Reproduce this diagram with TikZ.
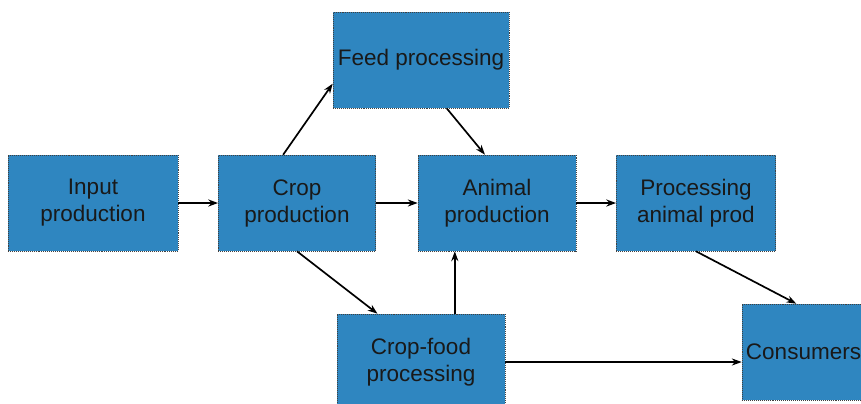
\documentclass[tikz,border=0pt]{standalone}
\usepackage{fontspec}
\setmainfont{Liberation Sans}
\usetikzlibrary{positioning,arrows.meta}
\definecolor{boxblue}{RGB}{47,134,192}
\tikzset{b/.style={rectangle,draw=black!75,densely dotted,fill=boxblue,minimum height=2.4cm,align=center,
            font=\fontsize{16}{19.2}\selectfont, text=black!90},
            a/.style={-{Stealth[length=7pt,width=5pt]}, line width=1.2pt, solid}}

\begin{document}
\begin{tikzpicture}[x=0.025cm,y=-0.025cm]
\useasboundingbox (0,0) rectangle (861,403);
\node[b, minimum width=4.25cm] at (93,203)(inp){Input\\production};
\node[b, minimum width=3.93cm] at (297,203)(crop){Crop\\production};
\node[b, minimum width=4.4cm] at (421,60)(feed){Feed processing};
\node[b, minimum width=3.95cm] at (497,203)(anim){Animal\\production};
\node[b, minimum width=3.98cm] at (696,203)(proc){Processing\\animal prod};
\node[b, minimum width=4.2cm] at (421,362)(cfood){Crop-food\\processing};
\node[b, minimum width=4cm, text width=3.8cm, inner xsep=0.1cm, align=left] at (822,352)(cons){Consumers};
\draw[a] (inp) -- (crop);
\draw[a] (crop.106) -- (feed.195);
\draw[a] (feed.298) -- (anim.104);
\draw[a] (crop) -- (anim);
\draw[a] (anim) -- (proc);
\draw[a] (crop.south) -- (cfood.132);
\draw[a] (cfood.55) -- (cfood.55 |- anim.south);
\draw[a] (proc.south) -- (cons.118);
\draw[a] (cfood.east) -- (cfood.east -| cons.west);
\end{tikzpicture}
\end{document}
